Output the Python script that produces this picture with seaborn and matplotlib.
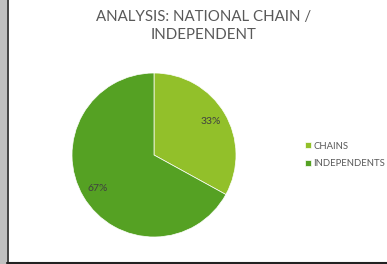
import matplotlib
matplotlib.use("Agg")
import matplotlib.pyplot as plt
import seaborn as sns
from matplotlib.patches import Rectangle
from matplotlib.lines import Line2D

# data
labels = ["CHAINS", "INDEPENDENTS"]
shares = [33, 67]
colors = ["#92C02A", "#55A123"]
title = "ANALYSIS: NATIONAL CHAIN /\nINDEPENDENT"

sns.set_theme(style="white")
plt.rcParams["font.family"] = ["Lato", "DejaVu Sans"]

W, H = 387, 264
fig = plt.figure(figsize=(W / 100, H / 100), dpi=100)
fig.patch.set_facecolor("white")

# frame: grey strip at the left, dark borders left/bottom
fig.patches.append(Rectangle((0, 0), 7 / W, 1, transform=fig.transFigure,
                             facecolor="#C0C0C0", edgecolor="none", zorder=0))
fig.lines.append(Line2D([7.5 / W, 7.5 / W], [0, 1], transform=fig.transFigure,
                        color="#222222", lw=1.2))
fig.lines.append(Line2D([7 / W, 1], [1.5 / H, 1.5 / H], transform=fig.transFigure,
                        color="#222222", lw=1.5))

# pie axes: centre (154,155), radius 82 px
cx, cy, r = 154, 155, 82
ax = fig.add_axes([(cx - r) / W, 1 - (cy + r) / H, 2 * r / W, 2 * r / H])
wedges, _, autotexts = ax.pie(
    shares, colors=colors, startangle=90, counterclock=False,
    autopct="%1.0f%%", pctdistance=0.8, radius=1.0,
    wedgeprops=dict(linewidth=0.5, edgecolor="white"),
    textprops=dict(color="#404040", fontsize=7.5))
ax.set_xlim(-1, 1)
ax.set_ylim(-1, 1)
ax.set_aspect("equal")

fig.text(204 / W, 1 - 26 / H, title, ha="center", va="center",
         fontsize=10.8, color="#595959", linespacing=1.3)

leg = fig.legend(wedges, labels, loc="center left",
                 bbox_to_anchor=(305 / W, 1 - 155 / H), frameon=False,
                 fontsize=6.8, handlelength=0.6, handleheight=0.6,
                 handletextpad=0.25, labelspacing=0.95, borderaxespad=0,
                 borderpad=0)
for t in leg.get_texts():
    t.set_color("#595959")

fig.savefig("out.png", dpi=100)
